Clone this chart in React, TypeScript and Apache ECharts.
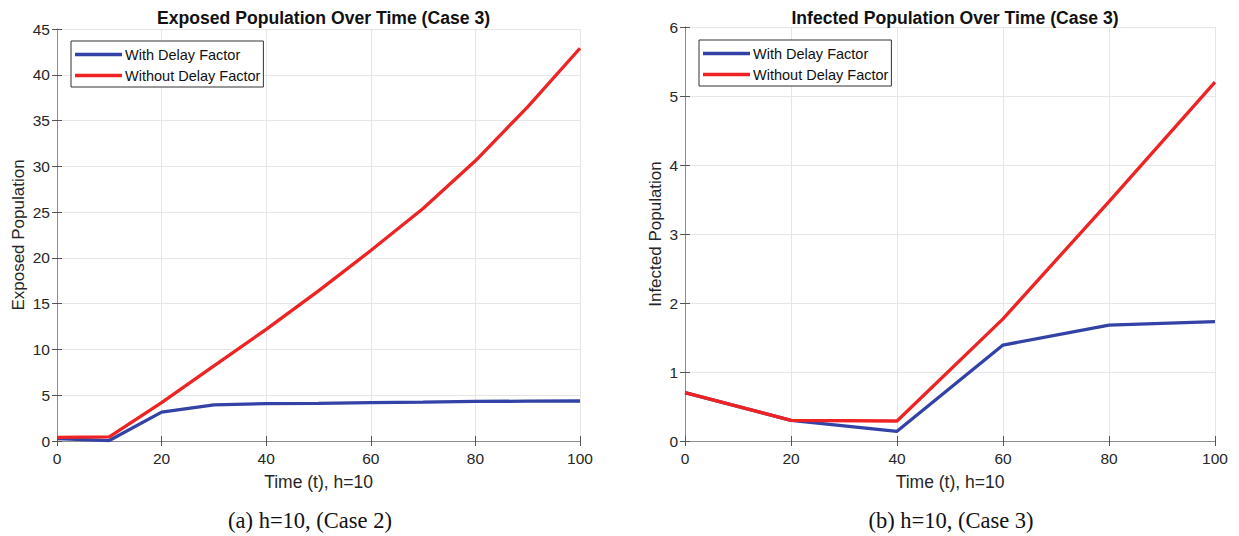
import React, { useEffect, useRef } from "react";
import * as echarts from "echarts";

const timeA = [0, 10, 20, 30, 40, 50, 60, 70, 80, 90, 100];
const exposedWithDelay = [0.25, 0.05, 3.15, 3.95, 4.08, 4.12, 4.2, 4.25, 4.32, 4.35, 4.37];
const exposedWithoutDelay = [0.4, 0.45, 4.2, 8.2, 12.2, 16.4, 20.8, 25.4, 30.6, 36.5, 42.9];

const timeB = [0, 20, 40, 60, 80, 100];
const infectedWithDelay = [0.7, 0.3, 0.14, 1.39, 1.68, 1.73];
const infectedWithoutDelay = [0.7, 0.3, 0.29, 1.77, 3.47, 5.2];

const seriesNames = ["With Delay Factor", "Without Delay Factor"];
const titles = ["Exposed Population Over Time (Case 3)", "Infected Population Over Time (Case 3)"];
const yNames = ["Exposed Population", "Infected Population"];
const xName = "Time (t), h=10";
const captions = ["(a) h=10, (Case 2)", "(b) h=10, (Case 3)"];

const BLUE = "#3342a6";
const RED = "#ee2424";
const FONT = "Liberation Sans";

const zip = (xs: number[], ys: number[]) => xs.map((x, i) => [x, ys[i]]);

export default function App() {
  const ref = useRef<HTMLDivElement>(null);
  useEffect(() => {
    document.body.style.margin = "0";
    const chart = echarts.init(ref.current!, null, { renderer: "svg" });
    const grids = [
      { left: 57, top: 29, width: 523, height: 412 },
      { left: 685, top: 27, width: 530, height: 414 },
    ];
    const yCfg = [
      { min: 0, max: 45, interval: 5, nameGap: 30 },
      { min: 0, max: 6, interval: 1, nameGap: 21 },
    ];
    const legendPos = [
      { left: 71, top: 41 },
      { left: 699, top: 40 },
    ];
    const xAxes: any[] = [];
    const yAxes: any[] = [];
    grids.forEach((_, i) => {
      xAxes.push({
        type: "value",
        gridIndex: i,
        min: 0,
        max: 100,
        interval: 20,
        name: xName,
        nameLocation: "middle",
        nameGap: 32,
        nameTextStyle: { fontFamily: FONT, fontSize: 17.5, color: "#262626" },
        axisLine: { show: true, lineStyle: { color: "#8c8c8c", width: 1 } },
        axisTick: { show: true, inside: true, length: 5, lineStyle: { color: "#555" } },
        axisLabel: { fontFamily: FONT, fontSize: 15.5, color: "#262626", margin: 9 },
        splitLine: { show: true, lineStyle: { color: "#e6e6e6", width: 1 } },
      });
      xAxes.push({
        type: "value",
        gridIndex: i,
        position: "top",
        min: 0,
        max: 100,
        interval: 20,
        axisLine: { show: true, lineStyle: { color: "#8c8c8c", width: 1 } },
        axisTick: { show: true, inside: true, length: 5, lineStyle: { color: "#555" } },
        axisLabel: { show: false },
        splitLine: { show: false },
      });
      yAxes.push({
        type: "value",
        gridIndex: i,
        min: yCfg[i].min,
        max: yCfg[i].max,
        interval: yCfg[i].interval,
        name: yNames[i],
        nameLocation: "middle",
        nameGap: yCfg[i].nameGap,
        nameTextStyle: { fontFamily: FONT, fontSize: 17, color: "#262626" },
        axisLine: { show: true, lineStyle: { color: "#8c8c8c", width: 1 } },
        axisTick: { show: true, inside: true, length: 5, lineStyle: { color: "#555" } },
        axisLabel: { fontFamily: FONT, fontSize: 15.5, color: "#262626", margin: 7 },
        splitLine: { show: true, lineStyle: { color: "#e6e6e6", width: 1 } },
      });
      yAxes.push({
        type: "value",
        gridIndex: i,
        position: "right",
        min: yCfg[i].min,
        max: yCfg[i].max,
        interval: yCfg[i].interval,
        axisLine: { show: true, lineStyle: { color: "#8c8c8c", width: 1 } },
        axisTick: { show: true, inside: true, length: 5, lineStyle: { color: "#555" } },
        axisLabel: { show: false },
        splitLine: { show: false },
      });
    });
    const lineSeries = (name: string, color: string, data: number[][], gi: number) => ({
      type: "line",
      name,
      xAxisIndex: gi * 2,
      yAxisIndex: gi * 2,
      data,
      symbol: "none",
      showSymbol: false,
      lineStyle: { color, width: 3.3 },
      itemStyle: { color },
      z: 5,
    });
    chart.setOption({
      animation: false,
      backgroundColor: "#ffffff",
      title: grids.map((g, i) => ({
        text: titles[i],
        left: g.left + g.width / 2,
        textAlign: "center",
        top: 4,
        textStyle: { fontFamily: FONT, fontSize: 17.6, fontWeight: "bold", color: "#111" },
      })),
      legend: legendPos.map((p) => ({
        left: p.left,
        top: p.top,
        orient: "vertical",
        data: seriesNames,
        icon: "rect",
        itemWidth: 47,
        itemHeight: 3.3,
        itemGap: 6,
        padding: [6, 3, 4, 4],
        borderColor: "#333",
        borderWidth: 1,
        backgroundColor: "#fff",
        textStyle: { fontFamily: FONT, fontSize: 14.5, color: "#111", padding: [0, 0, 0, -2] },
        selectedMode: false,
      })),
      grid: grids,
      xAxis: xAxes,
      yAxis: yAxes,
      series: [
        lineSeries(seriesNames[0], BLUE, zip(timeA, exposedWithDelay), 0),
        lineSeries(seriesNames[1], RED, zip(timeA, exposedWithoutDelay), 0),
        lineSeries(seriesNames[0], BLUE, zip(timeB, infectedWithDelay), 1),
        lineSeries(seriesNames[1], RED, zip(timeB, infectedWithoutDelay), 1),
      ],
      graphic: [
        {
          type: "text",
          x: 310,
          y: 520,
          style: {
            text: captions[0],
            font: '22.5px "Liberation Serif"',
            fill: "#111",
            align: "center",
            verticalAlign: "middle",
          },
        },
        {
          type: "text",
          x: 951,
          y: 520,
          style: {
            text: captions[1],
            font: '22.5px "Liberation Serif"',
            fill: "#111",
            align: "center",
            verticalAlign: "middle",
          },
        },
      ],
    });
    return () => chart.dispose();
  }, []);
  return <div ref={ref} style={{ width: 1239, height: 536 }} />;
}
